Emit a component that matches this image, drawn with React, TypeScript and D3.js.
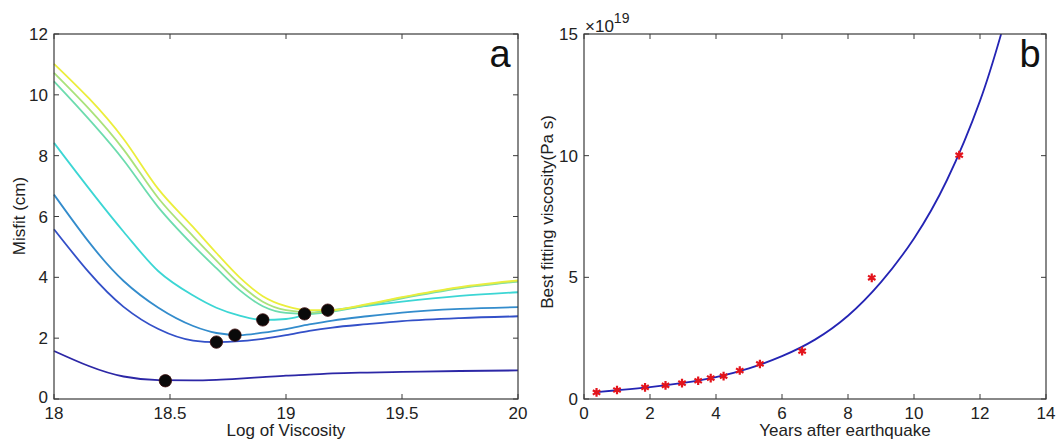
import React from "react";
import * as d3 from "d3";

// ---------- Panel a data ----------
const logVisc = [18, 18.3, 18.45, 18.6, 18.7, 18.8, 18.9, 19, 19.1, 19.2, 19.35, 19.5, 19.75, 20];
const misfit1 = [1.58, 0.74, 0.62, 0.61, 0.63, 0.67, 0.72, 0.77, 0.8, 0.84, 0.87, 0.89, 0.92, 0.94];
const misfit2 = [5.58, 3.03, 2.3, 1.92, 1.87, 1.9, 1.98, 2.1, 2.24, 2.35, 2.46, 2.56, 2.66, 2.72];
const misfit3 = [6.72, 3.88, 3.0, 2.4, 2.17, 2.1, 2.18, 2.3, 2.45, 2.58, 2.72, 2.84, 2.96, 3.02];
const misfit4 = [8.42, 5.5, 4.2, 3.4, 3.0, 2.74, 2.6, 2.63, 2.8, 2.92, 3.06, 3.2, 3.39, 3.51];
const misfit5 = [10.44, 7.85, 6.3, 5.05, 4.3, 3.58, 3.05, 2.83, 2.8, 2.87, 3.08, 3.31, 3.64, 3.86];
const misfit6 = [10.72, 8.2, 6.6, 5.35, 4.55, 3.78, 3.2, 2.92, 2.85, 2.9, 3.1, 3.33, 3.66, 3.88];
const misfit7 = [11.02, 8.55, 6.9, 5.65, 4.8, 4.0, 3.38, 3.05, 2.92, 2.93, 3.12, 3.35, 3.68, 3.9];
const misfitSeries = [misfit1, misfit2, misfit3, misfit4, misfit5, misfit6, misfit7];
const seriesColors = ["#2c27a6", "#3350c8", "#338ccc", "#3cd6d4", "#6ddcae", "#abe27a", "#ebee3c"];
const minX = [18.48, 18.7, 18.78, 18.9, 19.08, 19.18];
const minY = [0.6, 1.87, 2.1, 2.6, 2.8, 2.92];
const aXTicks = [18, 18.5, 19, 19.5, 20];
const aYTicks = [0, 2, 4, 6, 8, 10, 12];

// ---------- Panel b data ----------
const years = [0.38, 1.0, 1.85, 2.47, 2.97, 3.46, 3.84, 4.23, 4.72, 5.33, 6.61, 8.72, 11.37];
const bestVisc = [0.27, 0.37, 0.48, 0.56, 0.65, 0.75, 0.86, 0.94, 1.17, 1.44, 1.97, 4.98, 10.02];
const fitX = [0.38, 1, 2, 3, 4, 5, 6, 7, 8, 9, 10, 11, 12, 12.64];
const fitY = [0.28, 0.36, 0.49, 0.66, 0.9, 1.26, 1.76, 2.44, 3.42, 4.8, 6.6, 9.0, 12.25, 15.0];
const bXTicks = [0, 2, 4, 6, 8, 10, 12, 14];
const bYTicks = [0, 5, 10, 15];

const FONT = "'Liberation Sans', Arial, Helvetica, sans-serif";
const AXIS = "#3a3a3a";

function Frame({ x0, x1, y0, y1 }: { x0: number; x1: number; y0: number; y1: number }) {
  return <rect x={x0} y={y0} width={x1 - x0} height={y1 - y0} fill="none" stroke={AXIS} strokeWidth={1.2} />;
}

export default function App() {
  // Panel a
  const ax = d3.scaleLinear().domain([18, 20]).range([54, 518]);
  const ay = d3.scaleLinear().domain([0, 12]).range([399, 34]);
  const lineA = (ys: number[]) =>
    d3
      .line<number>()
      .x((_, i) => ax(logVisc[i]))
      .y((d) => ay(d))
      .curve(d3.curveMonotoneX)(ys) as string;

  // Panel b
  const bx = d3.scaleLinear().domain([0, 14]).range([584, 1046]);
  const by = d3.scaleLinear().domain([0, 15]).range([399, 34]);
  const fitLine = d3
    .line<number>()
    .x((_, i) => bx(fitX[i]))
    .y((d) => by(d))
    .curve(d3.curveNatural)(fitY) as string;
  const star = d3.symbol(d3.symbolAsterisk, 52)() as string;

  const tk = 5;
  const fs = 17;

  return (
    <svg
      width={1061}
      height={441}
      style={{ position: "absolute", left: 0, top: 0, background: "#fff" }}
      fontFamily={FONT}
    >
      <rect x={0} y={0} width={1061} height={441} fill="#fff" />
      {/* ---------- Panel a ---------- */}
      <g>
        {misfitSeries.map((s, i) => (
          <path key={i} d={lineA(s)} fill="none" stroke={seriesColors[i]} strokeWidth={1.8} />
        ))}
        {minX.map((v, i) => (
          <circle key={i} cx={ax(v)} cy={ay(minY[i])} r={6.2} fill="#0a0a0a" stroke="#3a0a0a" strokeWidth={0.8} />
        ))}
        <Frame x0={54} x1={518} y0={34} y1={399} />
        {aXTicks.map((t) => (
          <g key={t}>
            <line x1={ax(t)} x2={ax(t)} y1={399} y2={399 - tk} stroke={AXIS} />
            <line x1={ax(t)} x2={ax(t)} y1={34} y2={34 + tk} stroke={AXIS} />
            <text x={ax(t)} y={419} textAnchor="middle" fontSize={fs} fill="#222">
              {t}
            </text>
          </g>
        ))}
        {aYTicks.map((t) => (
          <g key={t}>
            <line x1={54} x2={54 + tk} y1={ay(t)} y2={ay(t)} stroke={AXIS} />
            <line x1={518} x2={518 - tk} y1={ay(t)} y2={ay(t)} stroke={AXIS} />
            <text x={48} y={ay(t) - (t === 0 ? 2 : 0)} dy="0.36em" textAnchor="end" fontSize={fs} fill="#222">
              {t}
            </text>
          </g>
        ))}
        <text x={286} y={436} textAnchor="middle" fontSize={fs} fill="#222">
          Log of Viscosity
        </text>
        <text
          transform={`translate(25,${216}) rotate(-90)`}
          textAnchor="middle"
          fontSize={fs}
          fill="#222"
        >
          Misfit (cm)
        </text>
        <text x={500} y={67} textAnchor="middle" fontSize={38} fill="#111">
          a
        </text>
      </g>

      {/* ---------- Panel b ---------- */}
      <g>
        <defs>
          <clipPath id="bclip">
            <rect x={584} y={34} width={462} height={365} />
          </clipPath>
        </defs>
        <path d={fitLine} fill="none" stroke="#2424b4" strokeWidth={1.8} clipPath="url(#bclip)" />
        {years.map((v, i) => (
          <path
            key={i}
            d={star}
            transform={`translate(${bx(v)},${by(bestVisc[i])})`}
            fill="none"
            stroke="#e3141c"
            strokeWidth={2.2}
          />
        ))}
        <Frame x0={584} x1={1046} y0={34} y1={399} />
        {bXTicks.map((t) => (
          <g key={t}>
            <line x1={bx(t)} x2={bx(t)} y1={399} y2={399 - tk} stroke={AXIS} />
            <line x1={bx(t)} x2={bx(t)} y1={34} y2={34 + tk} stroke={AXIS} />
            <text x={bx(t)} y={419} textAnchor="middle" fontSize={fs} fill="#222">
              {t}
            </text>
          </g>
        ))}
        {bYTicks.map((t) => (
          <g key={t}>
            <line x1={584} x2={584 + tk} y1={by(t)} y2={by(t)} stroke={AXIS} />
            <line x1={1046} x2={1046 - tk} y1={by(t)} y2={by(t)} stroke={AXIS} />
            <text x={578} y={by(t)} dy="0.36em" textAnchor="end" fontSize={fs} fill="#222">
              {t}
            </text>
          </g>
        ))}
        <text x={585} y={32} fontSize={17} fill="#222">
          ×10
          <tspan dy={-9} fontSize={14}>
            19
          </tspan>
        </text>
        <text x={845} y={436} textAnchor="middle" fontSize={fs} fill="#222">
          Years after earthquake
        </text>
        <text
          transform={`translate(553,${212}) rotate(-90)`}
          textAnchor="middle"
          fontSize={fs}
          fill="#222"
        >
          Best fitting viscosity(Pa s)
        </text>
        <text x={1030} y={67} textAnchor="middle" fontSize={38} fill="#111">
          b
        </text>
      </g>
    </svg>
  );
}
